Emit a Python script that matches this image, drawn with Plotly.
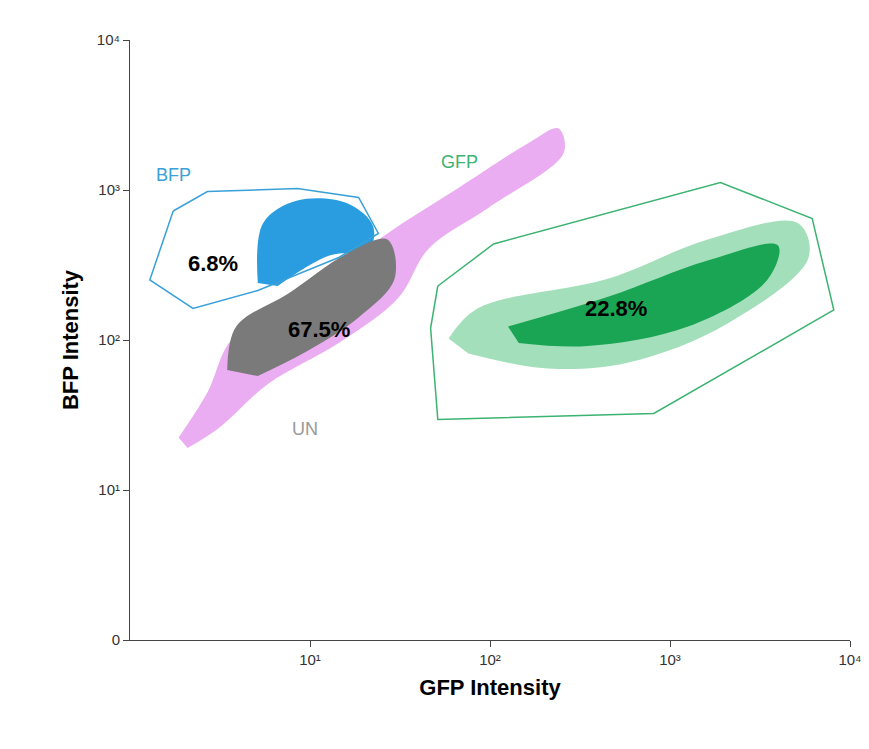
import plotly.graph_objects as go

# polygon vertices in decades (log10 of intensity)
bfp_gate_x = [0.24, 0.43, 0.93, 1.27, 1.38, 1.16, 0.71, 0.35, 0.11, 0.24]
bfp_gate_y = [2.86, 2.99, 3.01, 2.95, 2.71, 2.55, 2.33, 2.21, 2.40, 2.86]
gfp_gate_x = [1.71, 2.02, 3.28, 3.79, 3.91, 2.91, 1.71, 1.67, 1.71]
gfp_gate_y = [2.36, 2.64, 3.05, 2.81, 2.20, 1.51, 1.47, 2.08, 2.36]

magenta_x = [0.27, 0.43, 0.57, 0.99, 1.43, 1.82, 2.21, 2.38, 2.41, 1.99, 1.66, 1.49, 1.16, 0.77, 0.49, 0.32]
magenta_y = [1.35, 1.65, 2.01, 2.31, 2.71, 3.01, 3.31, 3.41, 3.25, 2.88, 2.61, 2.28, 1.98, 1.71, 1.41, 1.28]
blue_x = [0.71, 0.74, 0.93, 1.21, 1.35, 1.33, 1.10, 0.82]
blue_y = [2.38, 2.78, 2.93, 2.91, 2.76, 2.61, 2.56, 2.36]
gray_x = [0.54, 0.59, 0.88, 1.21, 1.43, 1.47, 1.27, 0.99, 0.71]
gray_y = [1.80, 2.09, 2.31, 2.58, 2.67, 2.41, 2.15, 1.93, 1.76]
green_x = [1.77, 1.93, 2.66, 3.21, 3.71, 3.77, 3.32, 2.77, 2.32, 1.88]
green_y = [2.01, 2.21, 2.41, 2.67, 2.78, 2.55, 2.11, 1.85, 1.81, 1.91]
core_x = [2.10, 2.66, 3.21, 3.60, 3.54, 3.10, 2.54, 2.16]
core_y = [2.09, 2.29, 2.53, 2.63, 2.40, 2.09, 1.96, 1.98]

pct_labels = ["6.8%", "67.5%", "22.8%"]
pct_x = [0.46, 1.05, 2.70]
pct_y = [2.51, 2.07, 2.21]


def pw(v):
    return [10 ** a for a in v]


fig = go.Figure()


def cloud(xs, ys, color, op):
    fig.add_trace(go.Scatter(x=pw(xs), y=pw(ys), mode="lines", fill="toself",
                             fillcolor=color, opacity=op, line=dict(width=0, shape="spline"),
                             hoverinfo="skip", showlegend=False))


cloud(magenta_x, magenta_y, "#cc33dd", 0.4)
cloud(green_x, green_y, "#33b866", 0.45)
cloud(core_x, core_y, "#0a9e48", 0.9)
cloud(blue_x, blue_y, "#2a9de0", 1)
cloud(gray_x, gray_y, "#7a7a7a", 1)

for gx, gy, col in [(bfp_gate_x, bfp_gate_y, "#3aa0d8"), (gfp_gate_x, gfp_gate_y, "#3cb371")]:
    fig.add_trace(go.Scatter(x=pw(gx), y=pw(gy), mode="lines",
                             line=dict(color=col, width=1.5), showlegend=False))

for t, x, y in zip(pct_labels, pct_x, pct_y):
    fig.add_annotation(x=x, y=y, text="<b>%s</b>" % t, showarrow=False,
                       font=dict(size=22, color="black", family="Arial"))
fig.add_annotation(x=0.24, y=3.10, text="BFP", showarrow=False, font=dict(size=18, color="#3aa0d8"))
fig.add_annotation(x=1.83, y=3.19, text="GFP", showarrow=False, font=dict(size=18, color="#3cb371"))
fig.add_annotation(x=0.97, y=1.41, text="UN", showarrow=False, font=dict(size=18, color="#999999"))

axis = dict(type="log", showgrid=False, zeroline=False, showline=True, linecolor="#444",
            ticks="outside", ticklen=6, tickcolor="#444", automargin=False,
            tickfont=dict(size=15, color="#333"), range=[0, 4])
fig.update_xaxes(**axis, tickvals=[10, 100, 1000, 10000], ticktext=["10¹", "10²", "10³", "10⁴"],
                 title=dict(text="<b>GFP Intensity</b>", font=dict(size=22, color="black"), standoff=12))
fig.update_yaxes(**axis, tickvals=[1, 10, 100, 1000, 10000], ticktext=["0", "10¹", "10²", "10³", "10⁴"],
                 title=dict(text="<b>BFP Intensity</b>", font=dict(size=22, color="black"), standoff=12))
fig.update_layout(width=869, height=749, plot_bgcolor="white", paper_bgcolor="white",
                  margin=dict(l=122, r=27, t=32, b=117), font=dict(family="Arial"))
fig.write_html("out.html")
